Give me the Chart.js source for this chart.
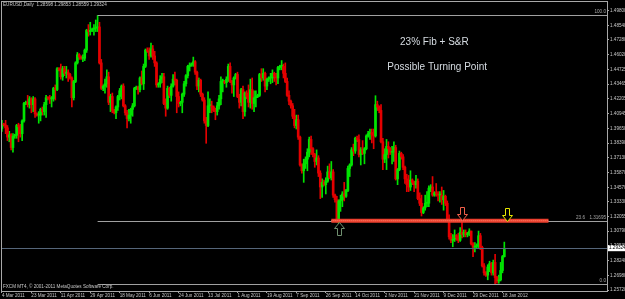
<!DOCTYPE html>
<html>
<head>
<meta charset="utf-8">
<title>EURUSD Daily</title>
<script src="https://cdn.jsdelivr.net/npm/chart.js@4.4.1/dist/chart.umd.min.js"></script>
<style>
  html, body { margin: 0; padding: 0; background: #000; overflow: hidden; }
  canvas { display: block; }
</style>
</head>
<body>
<canvas id="chart" width="625" height="299"></canvas>
<script>
/* DATA: one candle per FXCM daily bar (Sunday bars included), 4 Mar 2011 .. 19 Jan 2012 */
const opens = [
  1.3965,
  1.4000, 1.3995, 1.3970, 1.3890, 1.3910, 1.3800,
  1.3900, 1.3905, 1.3990, 1.3980, 1.3920, 1.4030,
  1.4180, 1.4190, 1.4170, 1.4220, 1.4170, 1.4220,
  1.4090, 1.4080, 1.4080, 1.4130, 1.4110, 1.4170,
  1.4230, 1.4225, 1.4220, 1.4220, 1.4310, 1.4300,
  1.4480, 1.4470, 1.4410, 1.4480, 1.4440, 1.4450,
  1.4430, 1.4400, 1.4230, 1.4370, 1.4530, 1.4600,
  1.4580, 1.4570, 1.4570, 1.4640, 1.4810, 1.4800,
  1.4810, 1.4820, 1.4830, 1.4830, 1.4840, 1.4530,
  1.4310, 1.4330, 1.4350, 1.4410, 1.4190, 1.4240,
  1.4120, 1.4100, 1.4150, 1.4240, 1.4290, 1.4330,
  1.4160, 1.4100, 1.4050, 1.4080, 1.4130, 1.4160,
  1.4310, 1.4320, 1.4300, 1.4400, 1.4350, 1.4500,
  1.4640, 1.4630, 1.4590, 1.4650, 1.4590, 1.4530,
  1.4340, 1.4350, 1.4390, 1.4410, 1.4180, 1.4140,
  1.4310, 1.4250, 1.4330, 1.4390, 1.4380, 1.4240,
  1.4180, 1.4190, 1.4260, 1.4350, 1.4420, 1.4500,
  1.4510, 1.4520, 1.4540, 1.4450, 1.4330, 1.4380,
  1.4260, 1.4210, 1.4030, 1.3990, 1.4160, 1.4160,
  1.4150, 1.4120, 1.4110, 1.4160, 1.4220, 1.4370,
  1.4370, 1.4360, 1.4390, 1.4500, 1.4370, 1.4340,
  1.4400, 1.4430, 1.4240, 1.4190, 1.4300, 1.4110,
  1.4270, 1.4240, 1.4190, 1.4300, 1.4180, 1.4230,
  1.4240, 1.4250, 1.4430, 1.4400, 1.4440, 1.4330,
  1.4390, 1.4400, 1.4400, 1.4440, 1.4410, 1.4400,
  1.4490, 1.4500, 1.4500, 1.4440, 1.4370, 1.4250,
  1.4200, 1.4160, 1.4070, 1.3990, 1.4040, 1.3890,
  1.3650, 1.3600, 1.3660, 1.3700, 1.3760, 1.3870,
  1.3790, 1.3740, 1.3680, 1.3710, 1.3580, 1.3460,
  1.3500, 1.3480, 1.3510, 1.3590, 1.3540, 1.3590,
  1.3390, 1.3350, 1.3170, 1.3340, 1.3350, 1.3400,
  1.3380, 1.3430, 1.3620, 1.3650, 1.3780, 1.3770,
  1.3880, 1.3870, 1.3740, 1.3780, 1.3750, 1.3790,
  1.3900, 1.3920, 1.3930, 1.3910, 1.3900, 1.4170,
  1.4150, 1.4120, 1.3850, 1.3700, 1.3740, 1.3810,
  1.3790, 1.3760, 1.3760, 1.3800, 1.3530, 1.3610,
  1.3750, 1.3720, 1.3630, 1.3530, 1.3480, 1.3460,
  1.3520, 1.3500, 1.3480, 1.3510, 1.3360, 1.3320,
  1.3240, 1.3280, 1.3320, 1.3320, 1.3450, 1.3460,
  1.3390, 1.3410, 1.3400, 1.3390, 1.3390, 1.3350,
  1.3380, 1.3320, 1.3180, 1.3030, 1.3000, 1.3010,
  1.3040, 1.3020, 1.3000, 1.3070, 1.3050, 1.3070,
  1.3050, 1.3060, 1.3080, 1.2970, 1.2940,
  1.2950, 1.2950, 1.3040, 1.2940, 1.2780,
  1.2720, 1.2700, 1.2770, 1.2800, 1.2720, 1.2810,
  1.2680, 1.2650, 1.2660, 1.2740, 1.2860
];
const highs = [
  1.4035,
  1.4010, 1.4035, 1.3990, 1.3940, 1.3920, 1.3920,
  1.3915, 1.4000, 1.4010, 1.4000, 1.4040, 1.4190,
  1.4200, 1.4250, 1.4240, 1.4230, 1.4240, 1.4230,
  1.4100, 1.4110, 1.4140, 1.4150, 1.4190, 1.4250,
  1.4240, 1.4250, 1.4240, 1.4320, 1.4340, 1.4490,
  1.4490, 1.4520, 1.4500, 1.4500, 1.4500, 1.4470,
  1.4440, 1.4410, 1.4380, 1.4540, 1.4620, 1.4610,
  1.4590, 1.4600, 1.4650, 1.4820, 1.4860, 1.4880,
  1.4830, 1.4860, 1.4900, 1.4939, 1.4880, 1.4560,
  1.4340, 1.4390, 1.4470, 1.4450, 1.4260, 1.4270,
  1.4130, 1.4160, 1.4250, 1.4310, 1.4340, 1.4350,
  1.4170, 1.4120, 1.4130, 1.4140, 1.4180, 1.4320,
  1.4330, 1.4330, 1.4410, 1.4460, 1.4520, 1.4650,
  1.4660, 1.4660, 1.4700, 1.4680, 1.4630, 1.4540,
  1.4360, 1.4420, 1.4440, 1.4440, 1.4220, 1.4330,
  1.4320, 1.4350, 1.4430, 1.4450, 1.4390, 1.4280,
  1.4200, 1.4270, 1.4370, 1.4430, 1.4510, 1.4530,
  1.4530, 1.4580, 1.4550, 1.4460, 1.4400, 1.4390,
  1.4270, 1.4230, 1.4060, 1.4280, 1.4220, 1.4200,
  1.4160, 1.4140, 1.4190, 1.4250, 1.4410, 1.4390,
  1.4380, 1.4410, 1.4520, 1.4530, 1.4380, 1.4410,
  1.4440, 1.4450, 1.4260, 1.4310, 1.4330, 1.4280,
  1.4290, 1.4340, 1.4390, 1.4400, 1.4290, 1.4290,
  1.4260, 1.4440, 1.4480, 1.4480, 1.4450, 1.4400,
  1.4410, 1.4440, 1.4470, 1.4450, 1.4440, 1.4500,
  1.4510, 1.4550, 1.4520, 1.4530, 1.4400, 1.4290,
  1.4210, 1.4180, 1.4130, 1.4080, 1.4080, 1.3900,
  1.3660, 1.3700, 1.3720, 1.3790, 1.3890, 1.3900,
  1.3800, 1.3750, 1.3780, 1.3730, 1.3600, 1.3530,
  1.3520, 1.3540, 1.3640, 1.3660, 1.3680, 1.3610,
  1.3400, 1.3380, 1.3350, 1.3390, 1.3420, 1.3500,
  1.3440, 1.3640, 1.3660, 1.3800, 1.3830, 1.3890,
  1.3900, 1.3910, 1.3800, 1.3860, 1.3800, 1.3910,
  1.3940, 1.3960, 1.3960, 1.3960, 1.4247, 1.4200,
  1.4160, 1.4170, 1.3880, 1.3790, 1.3870, 1.3850,
  1.3800, 1.3810, 1.3850, 1.3820, 1.3620, 1.3770,
  1.3760, 1.3740, 1.3640, 1.3570, 1.3560, 1.3600,
  1.3530, 1.3510, 1.3560, 1.3530, 1.3410, 1.3390,
  1.3290, 1.3390, 1.3420, 1.3470, 1.3480, 1.3550,
  1.3420, 1.3490, 1.3420, 1.3420, 1.3460, 1.3430,
  1.3390, 1.3340, 1.3220, 1.3060, 1.3050, 1.3090,
  1.3050, 1.3060, 1.3110, 1.3165, 1.3090, 1.3090,
  1.3070, 1.3100, 1.3080, 1.2980, 1.2980,
  1.2970, 1.3080, 1.3060, 1.2950, 1.2800,
  1.2730, 1.2790, 1.2820, 1.2810, 1.2830, 1.2880,
  1.2690, 1.2700, 1.2810, 1.2870, 1.2985
];
const lows = [
  1.3940,
  1.3985, 1.3920, 1.3860, 1.3850, 1.3780, 1.3760,
  1.3880, 1.3880, 1.3850, 1.3890, 1.3860, 1.4020,
  1.4170, 1.4150, 1.4140, 1.4100, 1.4110, 1.4060,
  1.4070, 1.4010, 1.4030, 1.4080, 1.4080, 1.4060,
  1.4210, 1.4180, 1.4150, 1.4200, 1.4210, 1.4290,
  1.4460, 1.4390, 1.4380, 1.4420, 1.4400, 1.4370,
  1.4390, 1.4150, 1.4210, 1.4360, 1.4520, 1.4560,
  1.4560, 1.4540, 1.4550, 1.4620, 1.4760, 1.4770,
  1.4800, 1.4770, 1.4800, 1.4800, 1.4520, 1.4300,
  1.4290, 1.4270, 1.4320, 1.4170, 1.4110, 1.4100,
  1.4090, 1.4050, 1.4120, 1.4210, 1.4220, 1.4150,
  1.4080, 1.3970, 1.4030, 1.4010, 1.4070, 1.4150,
  1.4300, 1.4260, 1.4280, 1.4340, 1.4300, 1.4490,
  1.4620, 1.4560, 1.4580, 1.4560, 1.4500, 1.4320,
  1.4320, 1.4320, 1.4360, 1.4170, 1.4070, 1.4130,
  1.4230, 1.4200, 1.4320, 1.4340, 1.4100, 1.4150,
  1.4160, 1.4100, 1.4240, 1.4330, 1.4400, 1.4460,
  1.4500, 1.4500, 1.4430, 1.4300, 1.4280, 1.4240,
  1.4200, 1.4010, 1.3837, 1.3980, 1.4100, 1.4100,
  1.4110, 1.4040, 1.4080, 1.4130, 1.4170, 1.4280,
  1.4350, 1.4320, 1.4370, 1.4360, 1.4270, 1.4240,
  1.4390, 1.4230, 1.4140, 1.4160, 1.4050, 1.4070,
  1.4220, 1.4150, 1.4140, 1.4130, 1.4110, 1.4150,
  1.4230, 1.4240, 1.4370, 1.4380, 1.4280, 1.4300,
  1.4370, 1.4350, 1.4360, 1.4370, 1.4340, 1.4350,
  1.4470, 1.4470, 1.4400, 1.4360, 1.4240, 1.4170,
  1.4140, 1.4050, 1.3970, 1.3960, 1.3870, 1.3640,
  1.3580, 1.3500, 1.3620, 1.3600, 1.3720, 1.3740,
  1.3720, 1.3630, 1.3650, 1.3550, 1.3360, 1.3370,
  1.3470, 1.3400, 1.3500, 1.3530, 1.3520, 1.3370,
  1.3330, 1.3160, 1.3145, 1.3250, 1.3290, 1.3340,
  1.3370, 1.3420, 1.3550, 1.3640, 1.3730, 1.3750,
  1.3850, 1.3720, 1.3650, 1.3740, 1.3660, 1.3780,
  1.3890, 1.3870, 1.3840, 1.3790, 1.3890, 1.4120,
  1.4100, 1.3840, 1.3610, 1.3670, 1.3610, 1.3710,
  1.3740, 1.3660, 1.3680, 1.3520, 1.3480, 1.3600,
  1.3700, 1.3610, 1.3490, 1.3420, 1.3420, 1.3430,
  1.3480, 1.3420, 1.3450, 1.3350, 1.3300, 1.3210,
  1.3230, 1.3260, 1.3290, 1.3290, 1.3420, 1.3380,
  1.3380, 1.3380, 1.3340, 1.3330, 1.3310, 1.3260,
  1.3300, 1.3180, 1.3010, 1.2980, 1.2945, 1.2990,
  1.3000, 1.2980, 1.2990, 1.3020, 1.3030, 1.3030,
  1.3030, 1.3040, 1.2960, 1.2860, 1.2900,
  1.2930, 1.2930, 1.2920, 1.2770, 1.2700,
  1.2690, 1.2660, 1.2730, 1.2700, 1.2700, 1.2623,
  1.2630, 1.2630, 1.2650, 1.2720, 1.2856
];
const closes = [
  1.4000,
  1.3995, 1.3970, 1.3890, 1.3910, 1.3800, 1.3900,
  1.3905, 1.3990, 1.3980, 1.3920, 1.4030, 1.4180,
  1.4190, 1.4170, 1.4220, 1.4170, 1.4220, 1.4090,
  1.4080, 1.4080, 1.4130, 1.4110, 1.4170, 1.4230,
  1.4225, 1.4220, 1.4220, 1.4310, 1.4300, 1.4480,
  1.4470, 1.4410, 1.4480, 1.4440, 1.4450, 1.4430,
  1.4400, 1.4230, 1.4370, 1.4530, 1.4600, 1.4580,
  1.4570, 1.4570, 1.4640, 1.4810, 1.4800, 1.4810,
  1.4820, 1.4830, 1.4830, 1.4840, 1.4530, 1.4310,
  1.4330, 1.4350, 1.4410, 1.4190, 1.4240, 1.4120,
  1.4100, 1.4150, 1.4240, 1.4290, 1.4330, 1.4160,
  1.4100, 1.4050, 1.4080, 1.4130, 1.4160, 1.4310,
  1.4320, 1.4300, 1.4400, 1.4350, 1.4500, 1.4640,
  1.4630, 1.4590, 1.4650, 1.4590, 1.4530, 1.4340,
  1.4350, 1.4390, 1.4410, 1.4180, 1.4140, 1.4310,
  1.4250, 1.4330, 1.4390, 1.4380, 1.4240, 1.4180,
  1.4190, 1.4260, 1.4350, 1.4420, 1.4500, 1.4510,
  1.4520, 1.4540, 1.4450, 1.4330, 1.4380, 1.4260,
  1.4210, 1.4030, 1.3990, 1.4160, 1.4160, 1.4150,
  1.4120, 1.4110, 1.4160, 1.4220, 1.4370, 1.4370,
  1.4360, 1.4390, 1.4500, 1.4370, 1.4340, 1.4400,
  1.4430, 1.4240, 1.4190, 1.4300, 1.4110, 1.4270,
  1.4240, 1.4190, 1.4300, 1.4180, 1.4230, 1.4240,
  1.4250, 1.4430, 1.4400, 1.4440, 1.4330, 1.4390,
  1.4400, 1.4400, 1.4440, 1.4410, 1.4400, 1.4490,
  1.4500, 1.4500, 1.4440, 1.4370, 1.4250, 1.4200,
  1.4160, 1.4070, 1.3990, 1.4040, 1.3890, 1.3650,
  1.3600, 1.3660, 1.3700, 1.3760, 1.3870, 1.3790,
  1.3740, 1.3680, 1.3710, 1.3580, 1.3460, 1.3500,
  1.3480, 1.3510, 1.3590, 1.3540, 1.3590, 1.3390,
  1.3350, 1.3170, 1.3340, 1.3350, 1.3400, 1.3380,
  1.3430, 1.3620, 1.3650, 1.3780, 1.3770, 1.3880,
  1.3870, 1.3740, 1.3780, 1.3750, 1.3790, 1.3900,
  1.3920, 1.3930, 1.3910, 1.3900, 1.4170, 1.4150,
  1.4120, 1.3850, 1.3700, 1.3740, 1.3810, 1.3790,
  1.3760, 1.3760, 1.3800, 1.3530, 1.3610, 1.3750,
  1.3720, 1.3630, 1.3530, 1.3480, 1.3460, 1.3520,
  1.3500, 1.3480, 1.3510, 1.3360, 1.3320, 1.3240,
  1.3280, 1.3320, 1.3320, 1.3450, 1.3460, 1.3390,
  1.3410, 1.3400, 1.3390, 1.3390, 1.3350, 1.3380,
  1.3320, 1.3180, 1.3030, 1.3000, 1.3010, 1.3040,
  1.3020, 1.3000, 1.3070, 1.3050, 1.3070, 1.3050,
  1.3060, 1.3080, 1.2970, 1.2940, 1.2950,
  1.2950, 1.3040, 1.2940, 1.2780, 1.2720,
  1.2700, 1.2770, 1.2800, 1.2720, 1.2810, 1.2680,
  1.2650, 1.2660, 1.2740, 1.2860, 1.2932
];

/* time axis: a label every 16 bars */
const dateTickBars = [0, 16, 32, 48, 64, 80, 96, 112, 128, 144, 160, 176, 192, 208, 224, 240, 256, 272];
const dateLabels = ["4 Mar 2011", "23 Mar 2011", "11 Apr 2011", "29 Apr 2011", "18 May 2011", "6 Jun 2011",
  "24 Jun 2011", "13 Jul 2011", "1 Aug 2011", "19 Aug 2011", "7 Sep 2011", "26 Sep 2011", "14 Oct 2011",
  "2 Nov 2011", "21 Nov 2011", "9 Dec 2011", "29 Dec 2011", "18 Jan 2012"];

/* price axis */
const priceLabels = ["1.49800", "1.48540", "1.47280", "1.46020", "1.44725", "1.43465", "1.42205",
  "1.40945", "1.39650", "1.38390", "1.37130", "1.35870", "1.34570", "1.33330", "1.32055",
  "1.30790", "1.29530", "1.28240", "1.26980", "1.25720"];

/* objects drawn on the chart */
const header = "EURUSD,Daily  1.28598 1.29853 1.28559 1.29324";
const bidPrice = 1.29324;
const fibHigh = 1.49390, fibLow = 1.26229, fibStartBar = 52;
const fibLevels = [100.0, 23.6, 0.0];
const srPrice = 1.31695, srFromBar = 179, srToBar = 297;
const arrows = [
  { bar: 183, tip: 1.3158, up: true, color: "#6f8f6f" },
  { bar: 250, tip: 1.3176, up: false, color: "#f0604a" },
  { bar: 274.5, tip: 1.3163, up: false, color: "#e6e600" }
];
const notes = [
  { text: "23% Fib + S&R", bar: 235, price: 1.4710 },
  { text: "Possible Turning Point", bar: 236.5, price: 1.4495 }
];

const UP = "#00e400", DOWN = "#e40000";
const SMALL = { family: "Liberation Sans, Arial, sans-serif", size: 4.6 };

const bars = closes.map((_, i) => i);
const colors = bars.map(i => (closes[i] >= opens[i] ? UP : DOWN));

function drawArrow(ctx, x, tipY, up, color) {
  const h = 13, hw = 5, sw = 2, hh = 6;
  const s = up ? 1 : -1;
  ctx.beginPath();
  ctx.moveTo(x, tipY);
  ctx.lineTo(x + hw, tipY + s * hh);
  ctx.lineTo(x + sw, tipY + s * hh);
  ctx.lineTo(x + sw, tipY + s * h);
  ctx.lineTo(x - sw, tipY + s * h);
  ctx.lineTo(x - sw, tipY + s * hh);
  ctx.lineTo(x - hw, tipY + s * hh);
  ctx.closePath();
  ctx.fillStyle = "#000";
  ctx.fill();
  ctx.strokeStyle = color;
  ctx.lineWidth = 1;
  ctx.stroke();
}

const overlay = {
  id: "overlay",
  beforeDraw(c) {
    const ctx = c.ctx;
    ctx.save();
    ctx.fillStyle = "#000";
    ctx.fillRect(0, 0, c.width, c.height);
    ctx.restore();
  },
  afterDatasetsDraw(c) {
    const ctx = c.ctx, xs = c.scales.x, ys = c.scales.y, a = c.chartArea;
    ctx.save();
    ctx.beginPath();
    ctx.rect(a.left, a.top, a.right - a.left, a.bottom - a.top);
    ctx.clip();

    // bid line
    const by = Math.round(ys.getPixelForValue(bidPrice)) + 0.5;
    ctx.strokeStyle = "#55667a";
    ctx.lineWidth = 1;
    ctx.beginPath(); ctx.moveTo(a.left, by); ctx.lineTo(a.right, by); ctx.stroke();

    // fibonacci levels
    const fx = xs.getPixelForValue(fibStartBar);
    ctx.font = "4.6px Liberation Sans, Arial, sans-serif";
    ctx.fillStyle = "#a8a8a8";
    ctx.textBaseline = "bottom";
    fibLevels.forEach(lv => {
      const p = fibLow + (fibHigh - fibLow) * lv / 100;
      const y = Math.round(ys.getPixelForValue(p)) + 0.5;
      ctx.strokeStyle = "#a0a0a0";
      ctx.beginPath(); ctx.moveTo(fx, y); ctx.lineTo(a.right, y); ctx.stroke();
      ctx.textAlign = "right";
      if (lv === 23.6) {
        ctx.fillText(p.toFixed(5), a.right - 1, y - 1);
        ctx.fillText(lv.toFixed(1), a.right - 22, y - 1);
      } else {
        ctx.fillText(lv.toFixed(1), a.right - 1, y - 1);
      }
    });

    // support / resistance line
    const sy = ys.getPixelForValue(srPrice);
    const sx0 = xs.getPixelForValue(srFromBar), sx1 = xs.getPixelForValue(srToBar);
    ctx.strokeStyle = "#ec3f2e";
    ctx.lineWidth = 4;
    ctx.beginPath(); ctx.moveTo(sx0, sy); ctx.lineTo(sx1, sy); ctx.stroke();
    ctx.strokeStyle = "#ff8a70";
    ctx.lineWidth = 1;
    ctx.setLineDash([1, 1]);
    ctx.beginPath(); ctx.moveTo(sx0, sy); ctx.lineTo(sx1, sy); ctx.stroke();
    ctx.setLineDash([]);

    // arrows
    arrows.forEach(ar => {
      drawArrow(ctx, Math.round(xs.getPixelForValue(ar.bar)) + 0.5,
        Math.round(ys.getPixelForValue(ar.tip)) + 0.5, ar.up, ar.color);
    });

    // notes
    ctx.font = "10px Liberation Sans, Arial, sans-serif";
    ctx.fillStyle = "#d6dce2";
    ctx.textAlign = "center";
    ctx.textBaseline = "middle";
    notes.forEach(n => ctx.fillText(n.text, xs.getPixelForValue(n.bar), ys.getPixelForValue(n.price)));

    // header + copyright
    ctx.font = "4.6px Liberation Sans, Arial, sans-serif";
    ctx.fillStyle = "#c8c8c8";
    ctx.textAlign = "left";
    ctx.textBaseline = "middle";
    ctx.fillText(header, a.left + 2, a.top + 4);
    ctx.fillText("FXCM MT4, \u00a9 2001-2011 MetaQuotes Software Corp.", a.left + 2, a.bottom - 4);
    ctx.restore();
  },
  afterDraw(c) {
    const ctx = c.ctx, ys = c.scales.y, a = c.chartArea;
    ctx.save();
    ctx.strokeStyle = "#a8a8a8";
    ctx.lineWidth = 1;
    ctx.strokeRect(a.left + 0.5, a.top + 0.5, a.right - a.left, a.bottom - a.top);
    // current price box on the price axis
    const y = ys.getPixelForValue(bidPrice);
    ctx.fillStyle = "#ffffff";
    ctx.fillRect(a.right + 1, y - 3, c.width - a.right - 1, 6);
    ctx.fillStyle = "#000";
    ctx.font = "4.6px Liberation Sans, Arial, sans-serif";
    ctx.textAlign = "left";
    ctx.textBaseline = "middle";
    ctx.fillText(bidPrice.toFixed(5), a.right + 2, y);
    ctx.restore();
  }
};

new Chart(document.getElementById("chart"), {
  type: "bar",
  data: {
    datasets: [
      {
        label: "wick",
        data: bars.map(i => ({ x: i, y: [lows[i], highs[i]] })),
        backgroundColor: colors,
        barThickness: 1,
        grouped: false,
        order: 2
      },
      {
        label: "body",
        data: bars.map(i => ({ x: i, y: [opens[i], closes[i]] })),
        backgroundColor: colors,
        barThickness: 2,
        minBarLength: 1,
        grouped: false,
        order: 1
      }
    ]
  },
  options: {
    responsive: false,
    devicePixelRatio: 1,
    animation: false,
    layout: { padding: { top: 1, left: 1, right: 0, bottom: 0 } },
    plugins: { legend: { display: false }, tooltip: { enabled: false } },
    scales: {
      x: {
        type: "linear",
        min: -0.5,
        max: 328.8,
        offset: false,
        border: { display: false },
        grid: { display: true, offset: false, drawOnChartArea: false, drawTicks: true, tickLength: 2, color: "#a8a8a8" },
        afterBuildTicks: s => { s.ticks = dateTickBars.map(v => ({ value: v })); },
        afterFit: s => { s.height = 8; s.paddingLeft = 0; s.paddingRight = 0; },
        ticks: {
          autoSkip: false,
          maxRotation: 0,
          align: "start",
          padding: 0,
          color: "#c8c8c8",
          font: SMALL,
          callback: (v, i) => dateLabels[i]
        }
      },
      y: {
        position: "right",
        min: 1.25634,
        max: 1.50636,
        border: { display: false },
        grid: { display: true, drawOnChartArea: false, drawTicks: true, tickLength: 2, color: "#a8a8a8" },
        afterBuildTicks: s => { s.ticks = priceLabels.map(t => ({ value: parseFloat(t) })); },
        afterFit: s => { s.width = 18; s.paddingTop = 0; s.paddingBottom = 0; },
        ticks: {
          autoSkip: false,
          padding: 1,
          color: "#c8c8c8",
          font: SMALL,
          callback: (v, i) => priceLabels[i]
        }
      }
    }
  },
  plugins: [overlay]
});
</script>
</body>
</html>
